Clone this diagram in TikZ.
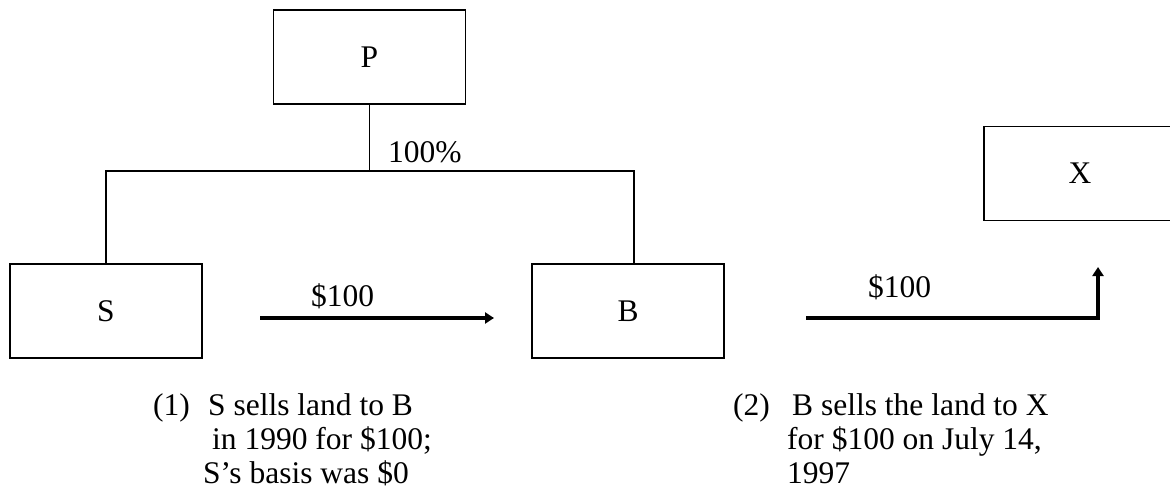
\documentclass[tikz,border=0pt]{standalone}
\usepackage{fontspec}
\setmainfont{Liberation Serif}
\usetikzlibrary{arrows.meta}

\begin{document}
\begin{tikzpicture}[x=1pt,y=-1pt,
	every node/.style={font=\fontsize{31.5}{36}\selectfont},
	entity/.style={draw,line width=1.8pt,minimum width=192pt,minimum height=94pt,inner sep=0pt},
	flow/.style={line width=4.5pt,-{Triangle[length=9pt,width=11pt]}},
	note/.style={anchor=base west,inner sep=0pt}]
	\useasboundingbox (0,0) rectangle (1170,492);

	\node [entity] (P) at (369.5,57) {P};
	\node [entity] (S) at (106,311) {S};
	\node [entity] (B) at (628,311) {B};
	\node [entity] (X) at (1080,173.5) {X};

	\coordinate (bus) at (369.5,171);
	\draw [line width=1.8pt] (P.south) -- (bus);
	\draw [line width=1.8pt] (S.north) |- (bus) -| ([xshift=6pt]B.north);
	\node [note] (own) at (388,163) {100\%};

	\coordinate (s1) at (260,318);
	\coordinate (s2) at (494,318);
	\draw [flow] (s1) -- (s2);
	\node [note] (pay1) at (311,306) {\$100};

	\coordinate (b1) at (806,318);
	\coordinate (b2) at (1098,267);
	\draw [flow] (b1) -| (b2);
	\node [note] (pay2) at (868,297) {\$100};

	\node [note] (n1) at (153,415) {(1)};
	\node [note] (n1a) at (208,415) {S sells land to B};
	\node [note] (n1b) at (212,449) {in 1990 for \$100;};
	\node [note] (n1c) at (203,483) {S's basis was \$0};

	\node [note] (n2) at (733,415) {(2)};
	\node [note] (n2a) at (792,415) {B sells the land to X};
	\node [note] (n2b) at (787,449) {for \$100 on July 14,};
	\node [note] (n2c) at (787,483) {1997};
\end{tikzpicture}
\end{document}
